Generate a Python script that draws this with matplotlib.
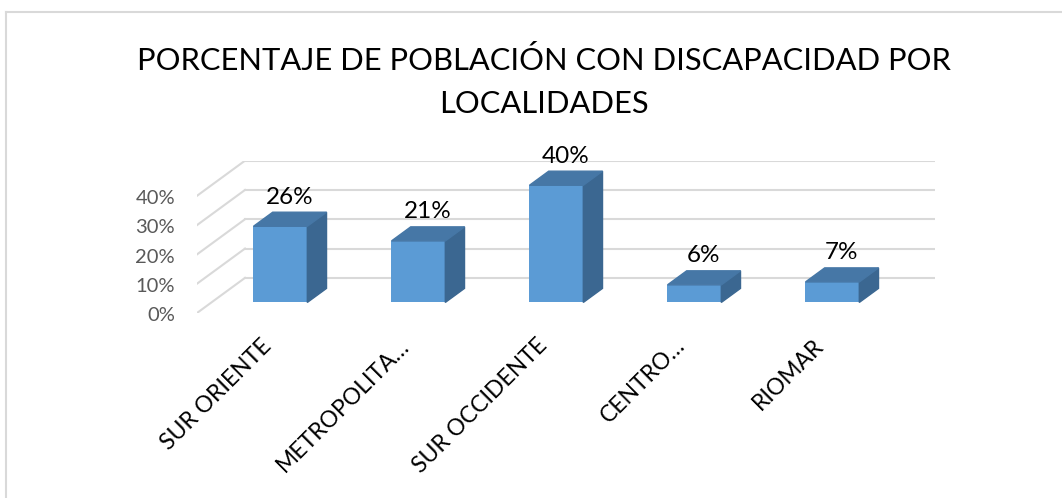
import matplotlib.pyplot as plt
from matplotlib.patches import Polygon
import numpy as np

plt.rcParams['font.family'] = ['Lato', 'DejaVu Sans']

categorias = ['SUR ORIENTE', 'METROPOLITA…', 'SUR OCCIDENTE', 'CENTRO…', 'RIOMAR']
porcentajes = [26, 21, 40, 6, 7]
ticks = [0, 10, 20, 30, 40]

# fake 3d: depth offsets in data units (x in categories, y in percent)
DX = 0.348
DY = 12.0
d0, d1 = 0.3, 0.7
ancho = 0.39

fig = plt.figure(figsize=(10.62, 4.98), dpi=100)
ax = fig.add_axes([197/1062, 1 - 313/498, 738/1062, 52*2.93/498])
ax.set_xlim(0, 5 + DX)
ax.set_ylim(0, 52)
ax.axis('off')

# walls
for t in ticks:
    ax.plot([DX, 5 + DX], [t + DY, t + DY], color='#d9d9d9', lw=1.5, zorder=1)
    ax.plot([0, DX], [t, t + DY], color='#d9d9d9', lw=1.5, zorder=1)
    ax.text(-0.16, t - 0.9, f'{t}%', ha='right', va='center', fontsize=14.5, color='#595959')

x = np.arange(len(porcentajes)) + 0.5
xf = x + d0 * DX
ax.bar(xf, porcentajes, width=ancho, bottom=d0 * DY, color='#5b9bd5', zorder=3)

ddx = (d1 - d0) * DX
ddy = (d1 - d0) * DY
for xi, v in zip(xf, porcentajes):
    l, r = xi - ancho / 2, xi + ancho / 2
    b, t = d0 * DY, v + d0 * DY
    ax.add_patch(Polygon([(r, b), (r + ddx, b + ddy), (r + ddx, t + ddy), (r, t)],
                         closed=True, color='#3b6791', zorder=3))
    ax.add_patch(Polygon([(l, t), (r, t), (r + ddx, t + ddy), (l + ddx, t + ddy)],
                         closed=True, color='#4677a6', zorder=3))
    ax.text(xi + ddx / 2, t + ddy + 1.5, f'{v}%', ha='center', va='bottom',
            fontsize=17.5, color='black', clip_on=False)

for xi, c in zip(x, categorias):
    ax.text(xi - 0.04, -7.5, c, rotation=45, rotation_mode='anchor', ha='right', va='top',
            fontsize=16.5, color='black')

fig.text(0.512, 1 - 60/498, 'PORCENTAJE DE POBLACIÓN CON DISCAPACIDAD POR', ha='center', va='center',
         fontsize=22.2, color='black')
fig.text(0.512, 1 - 104/498, 'LOCALIDADES', ha='center', va='center', fontsize=22.2, color='black')

# chart border
fig.add_artist(plt.Line2D([6/1062, 1], [1 - 12/498, 1 - 12/498], color='#d9d9d9', lw=1.5))
fig.add_artist(plt.Line2D([6/1062, 6/1062], [0, 1 - 12/498], color='#d9d9d9', lw=1.5))

fig.savefig('out.png', dpi=100)
